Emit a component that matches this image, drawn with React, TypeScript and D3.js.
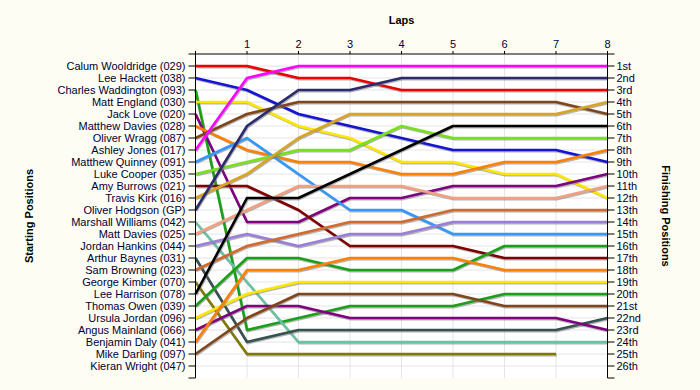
import React from 'react'
import { scaleLinear, line, range } from 'd3'

// starting grid order
const drivers = [
  'Calum Wooldridge (029)', 'Lee Hackett (038)', 'Charles Waddington (093)', 'Matt England (030)',
  'Jack Love (020)', 'Matthew Davies (028)', 'Oliver Wragg (087)', 'Ashley Jones (017)',
  'Matthew Quinney (091)', 'Luke Cooper (035)', 'Amy Burrows (021)', 'Travis Kirk (016)',
  'Oliver Hodgson (GP)', 'Marshall Williams (042)', 'Matt Davies (025)', 'Jordan Hankins (044)',
  'Arthur Baynes (031)', 'Sam Browning (023)', 'George Kimber (070)', 'Lee Harrison (078)',
  'Thomas Owen (039)', 'Ursula Jordan (096)', 'Angus Mainland (066)', 'Benjamin Daly (041)',
  'Mike Darling (097)', 'Kieran Wright (047)',
]

const lapLabels = ['1', '2', '3', '4', '5', '6', '7', '8']

const finishLabels = [
  '1st', '2nd', '3rd', '4th', '5th', '6th', '7th', '8th', '9th', '10th', '11th', '12th', '13th',
  '14th', '15th', '16th', '17th', '18th', '19th', '20th', '21st', '22nd', '23rd', '24th', '25th', '26th',
]

// position of each driver after lap 0..8 (null = not running)
const positions: (number | null)[][] = [
  [1, 1, 2, 2, 3, 3, 3, 3, 3],
  [2, 3, 5, 6, 7, 8, 8, 8, 9],
  [3, 23, 22, 21, 21, 21, 20, 20, 20],
  [4, 4, 6, 7, 9, 9, 10, 10, 12],
  [5, 14, 14, 12, 12, 11, 11, 11, 10],
  [6, 8, 9, 9, 10, 10, 9, 9, 8],
  [7, 5, 4, 4, 4, 4, 4, 4, 5],
  [8, 2, 1, 1, 1, 1, 1, 1, 1],
  [9, 7, 10, 13, 13, 15, 15, 15, 15],
  [10, 9, 8, 8, 6, 7, 7, 7, 7],
  [11, 11, 13, 16, 16, 16, 17, 17, 17],
  [12, 10, 7, 5, 5, 5, 5, 5, 4],
  [13, 6, 3, 3, 2, 2, 2, 2, 2],
  [14, 19, 24, 24, 24, 24, 24, 24, 24],
  [15, 13, 11, 11, 11, 12, 12, 12, 11],
  [16, 15, 16, 15, 15, 14, 14, 14, 14],
  [17, 24, 23, 23, 23, 23, 23, 23, 22],
  [18, 16, 15, 14, 14, 13, 13, 13, 13],
  [19, 25, 25, 25, 25, 25, 25, 25, null],
  [20, 12, 12, 10, 8, 6, 6, 6, 6],
  [21, 17, 17, 18, 18, 18, 16, 16, 16],
  [22, 20, 19, 19, 19, 19, 19, 19, 19],
  [23, 21, 21, 22, 22, 22, 22, 22, 23],
  [24, 18, 18, 17, 17, 17, 18, 18, 18],
  [25, 22, 20, 20, 20, 20, 21, 21, 21],
]

const colors = [
  '#ee0000', '#1414d2', '#18a018', '#ffe600', '#800080', '#ff8000', '#80461b', '#ff00ff',
  '#3399ff', '#77e21c', '#800000', '#d9a520', '#2a2a6e', '#66c4a4', '#f4a080', '#9a7ed8',
  '#385050', '#d2692e', '#807a00', '#000000', '#18a018', '#ffe600', '#800080', '#ff8000', '#80461b',
]

const W = 700
const H = 390
const font = '"Liberation Sans", Arial, sans-serif'

const App = () => {
  const x = scaleLinear().domain([0, 8]).range([195.5, 607.5])
  const y = scaleLinear().domain([0, 27]).range([54, 378])

  const path = line<number | null>()
    .defined(d => d !== null)
    .x((d, i) => x(i))
    .y(d => y(d as number))

  const rows = range(1, 27)
  const ticks = range(0, 28)

  return (
    <svg width={W} height={H} style={{ position: 'absolute', left: 0, top: 0, background: '#fdfdf3' }}
      fontFamily={font}>
      <rect x={0} y={0} width={W} height={H} fill="#fdfdf3" />
      <rect x={x(0)} y={y(0)} width={x(8) - x(0)} height={y(27) - y(0)} fill="#ffffff" />

      {/* grid */}
      {rows.map(r => (
        <line key={'h' + r} x1={x(0)} x2={x(8)} y1={y(r)} y2={y(r)} stroke="#e4e4e4" />
      ))}
      {range(1, 8).map(l => (
        <line key={'v' + l} x1={x(l)} x2={x(l)} y1={y(0)} y2={y(27)} stroke="#e4e4e4" />
      ))}

      {/* driver lines */}
      {positions.map((p, i) => (
        <g key={drivers[i]}>
          <path d={path(p) || ''} fill="none" stroke="#777" strokeOpacity={0.55} strokeWidth={2.5}
            transform="translate(0.8,1.2)" strokeLinejoin="round" />
          <path d={path(p) || ''} fill="none" stroke={colors[i]} strokeWidth={2.6} strokeLinejoin="round" />
        </g>
      ))}

      {/* left axis */}
      <line x1={x(0)} x2={x(0)} y1={y(0)} y2={y(27)} stroke="#000" />
      {ticks.map(t => (
        <line key={'lt' + t} x1={x(0) - 7} x2={x(0)} y1={y(t)} y2={y(t)} stroke="#000" />
      ))}
      {drivers.map((d, i) => (
        <text key={'ll' + i} x={x(0) - 10} y={y(i + 1)} dy="0.35em" textAnchor="end" fontSize={11}
          fill="#000033">{d}</text>
      ))}

      {/* right axis */}
      <line x1={x(8)} x2={x(8)} y1={y(0)} y2={y(27)} stroke="#000" />
      {ticks.map(t => (
        <line key={'rt' + t} x1={x(8)} x2={x(8) + 7} y1={y(t)} y2={y(t)} stroke="#000" />
      ))}
      {finishLabels.map((d, i) => (
        <text key={'rl' + i} x={x(8) + 9} y={y(i + 1)} dy="0.35em" fontSize={11} fill="#000033">{d}</text>
      ))}

      {/* top axis */}
      <line x1={x(0)} x2={x(8)} y1={y(0)} y2={y(0)} stroke="#000" />
      {range(0, 9).map(l => (
        <line key={'tt' + l} x1={x(l)} x2={x(l)} y1={y(0) - 3} y2={y(0)} stroke="#000" />
      ))}
      {lapLabels.map((d, i) => (
        <text key={'tl' + i} x={x(i + 1)} y={47.5} textAnchor="middle" fontSize={11} fill="#000033">{d}</text>
      ))}

      {/* titles */}
      <text x={(x(0) + x(8)) / 2} y={24} textAnchor="middle" fontSize={11} fontWeight="bold">Laps</text>
      <text transform={`translate(33,${(y(0) + y(27)) / 2}) rotate(-90)`} textAnchor="middle" fontSize={11}
        fontWeight="bold">Starting Positions</text>
      <text transform={`translate(662,${(y(0) + y(27)) / 2}) rotate(90)`} textAnchor="middle" fontSize={11}
        fontWeight="bold">Finishing Positions</text>
    </svg>
  )
}

export default App
